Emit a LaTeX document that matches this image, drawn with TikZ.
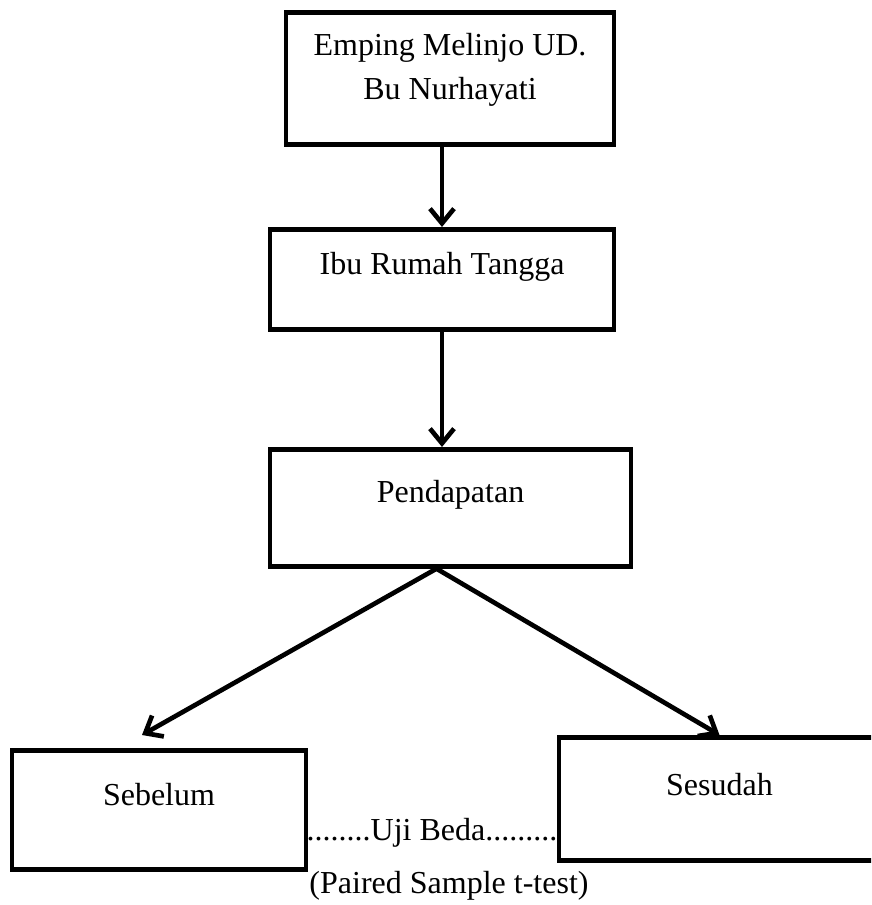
\documentclass[tikz,border=0pt]{standalone}
\usepackage{fontspec}
\setmainfont{Liberation Serif}
\usetikzlibrary{arrows.meta}

\tikzset{
    kotak/.style={draw, rectangle, line width=3.5pt, inner sep=0pt, align=center, anchor=north},
    panah/.style={line width=3.5pt, line cap=round, -{Straight Barb[length=11pt,width=18pt]}},
}

\begin{document}
\begin{tikzpicture}[x=0.75pt, y=-0.75pt, font=\fontsize{24}{33}\selectfont]
    \useasboundingbox (0,0) rectangle (871,905);
    \clip (0,0) rectangle (871,905);
    % boxes
    \node[kotak, minimum width=246pt, text height=65.25pt, text depth=33.75pt] (usaha) at (450, 10) {Emping Melinjo UD.\\Bu Nurhayati};
    \node[kotak, minimum width=258pt, text height=33.75pt, text depth=41.25pt] (ibu) at (442, 227) {Ibu Rumah Tangga};
    \node[kotak, minimum width=270.75pt, text height=39.75pt, text depth=48pt] (pend) at (450.5, 447) {Pendapatan};
    \node[kotak, minimum width=220.5pt, text height=41.25pt, text depth=48pt] (sebelum) at (159, 748) {Sebelum};
    \node[kotak, minimum width=240.75pt, text height=43.5pt, text depth=48.75pt] (sesudah) at (719.5, 735) {Sesudah};
    % test
    \node[anchor=base] (uji) at (432, 840) {........Uji Beda.........};
    \node[anchor=base] (paired) at (449, 893) {(Paired Sample t-test)};
    % arrows
    \draw [panah] (usaha.south -| ibu.north) to (ibu.north);
    \draw [panah] (ibu.south) to (ibu.south |- pend.north);
    \coordinate (cabang) at ([xshift=-10.5pt]pend.south); % split point
    \coordinate (ujung) at (142, 735);
    \draw [panah] (cabang) to (ujung);
    \draw [panah] (cabang) to (sesudah.north);
\end{tikzpicture}
\end{document}
